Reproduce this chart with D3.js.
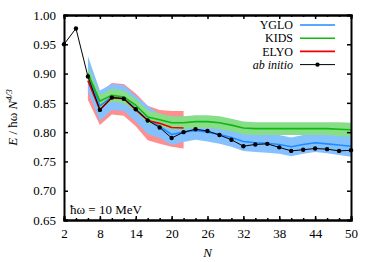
<!DOCTYPE html>
<html>
<head>
<meta charset="utf-8">
<script src="https://cdn.jsdelivr.net/npm/d3@7"></script>
<style>
  body { margin: 0; background: #fff; }
  text { font-family: "Liberation Serif", "DejaVu Serif", serif; fill: #000; }
</style>
</head>
<body>
<div id="graphe"></div>
<script>
//----------------------------------------------------------------
// données
var nAbInitio = [2, 4, 6, 8, 10, 12, 14, 16, 18, 20, 22, 24, 26, 28, 30, 32, 34, 36, 38, 40, 42, 44, 46, 48, 50];
var eAbInitio = [0.950, 0.977, 0.895, 0.838, 0.859, 0.857, 0.839, 0.820, 0.808, 0.790, 0.800, 0.805, 0.802, 0.795, 0.787, 0.776, 0.779, 0.780, 0.774, 0.768, 0.770, 0.772, 0.771, 0.768, 0.769];

var nModele = [6, 8, 10, 12, 14, 16, 18, 20, 22, 24, 26, 28, 30, 32, 34, 36, 38, 40, 42, 44, 46, 48, 50];
var eYglo = [0.900, 0.845, 0.860, 0.858, 0.840, 0.821, 0.810, 0.796, 0.800, 0.803, 0.800, 0.796, 0.791, 0.784, 0.782, 0.781, 0.779, 0.775, 0.779, 0.782, 0.780, 0.778, 0.776];
var errYglo = [0.030, 0.026, 0.022, 0.022, 0.022, 0.024, 0.020, 0.018, 0.017, 0.016, 0.016, 0.016, 0.016, 0.016, 0.016, 0.016, 0.016, 0.016, 0.016, 0.016, 0.016, 0.017, 0.018];
var eKids = [0.900, 0.853, 0.863, 0.860, 0.846, 0.826, 0.821, 0.816, 0.816, 0.818, 0.818, 0.816, 0.812, 0.807, 0.806, 0.806, 0.806, 0.806, 0.806, 0.806, 0.806, 0.805, 0.804];
var errKids = [0.012, 0.011, 0.011, 0.011, 0.011, 0.011, 0.011, 0.011, 0.011, 0.011, 0.011, 0.011, 0.011, 0.011, 0.011, 0.011, 0.011, 0.011, 0.011, 0.011, 0.011, 0.012, 0.012];

var nElyo = [6, 8, 10, 12, 14, 16, 18, 20, 22];
var eElyo = [0.888, 0.838, 0.859, 0.857, 0.838, 0.820, 0.815, 0.808, 0.807];
var hautElyo = [0.900, 0.868, 0.884, 0.882, 0.866, 0.845, 0.838, 0.836, 0.836];
var basElyo = [0.855, 0.812, 0.830, 0.828, 0.810, 0.786, 0.780, 0.775, 0.772];

var ticksX = [2, 8, 14, 20, 26, 32, 38, 44, 50];
var ticksY = [0.65, 0.70, 0.75, 0.80, 0.85, 0.90, 0.95, 1.00];
var legende = ["YGLO", "KIDS", "ELYO", "ab initio"];

//----------------------------------------------------------------
// crée le svg
var largeur = 374, hauteur = 262;
var marge = {gauche: 64, droite: 23, haut: 15, bas: 42};
var svg = d3.select("#graphe")
  .append("svg")
  .attr("width", largeur)
  .attr("height", hauteur);

var x = d3.scaleLinear().domain([2, 50]).range([marge.gauche, largeur - marge.droite]);
var y = d3.scaleLinear().domain([0.65, 1.0]).range([hauteur - marge.bas, marge.haut]);

svg.append("clipPath").attr("id", "cadre")
  .append("rect")
  .attr("x", x(2)).attr("y", y(1.0))
  .attr("width", x(50) - x(2)).attr("height", y(0.65) - y(1.0));

var g = svg.append("g").attr("clip-path", "url(#cadre)");

//----------------------------------------------------------------
// bandes d'incertitude
function bande(ns, bas, haut, couleur) {
  var aire = d3.area()
    .x(function(d, i) { return x(ns[i]); })
    .y0(function(d, i) { return y(bas[i]); })
    .y1(function(d, i) { return y(haut[i]); });
  g.append("path").attr("d", aire(ns)).attr("fill", couleur);
}
bande(nElyo, basElyo, hautElyo, "#ff8e8e");
bande(nModele,
  eYglo.map(function(v, i) { return v - errYglo[i]; }),
  eYglo.map(function(v, i) { return v + errYglo[i]; }), "#86c1ff");
bande(nModele,
  eKids.map(function(v, i) { return v - errKids[i]; }),
  eKids.map(function(v, i) { return v + errKids[i]; }), "#88dd88");

//----------------------------------------------------------------
// courbes
function courbe(ns, vals, couleur, epaisseur) {
  var ligne = d3.line()
    .x(function(d, i) { return x(ns[i]); })
    .y(function(d) { return y(d); });
  g.append("path").attr("d", ligne(vals))
    .attr("fill", "none").attr("stroke", couleur)
    .attr("stroke-width", epaisseur).attr("stroke-linejoin", "round");
}
courbe(nModele, eYglo, "#1e8cff", 1.6);
courbe(nModele, eKids, "#10b810", 1.6);
courbe(nElyo, eElyo, "#ee0000", 1.6);
courbe(nAbInitio, eAbInitio, "#000", 1);

svg.append("g").selectAll("circle")
  .data(eAbInitio)
  .enter()
  .append("circle")
  .attr("cx", function(d, i) { return x(nAbInitio[i]); })
  .attr("cy", function(d) { return y(d); })
  .attr("r", 2.2)
  .attr("fill", "#000");

//----------------------------------------------------------------
// axes avec graduations vers l'intérieur
var ticksMineursX = d3.range(2, 51, 2);
svg.append("g").attr("transform", "translate(0," + y(0.65) + ")")
  .call(d3.axisBottom(x).tickValues(ticksMineursX).tickSize(-2).tickFormat(""));
svg.append("g").attr("transform", "translate(0," + y(0.65) + ")")
  .call(d3.axisBottom(x).tickValues(ticksX).tickSize(-4).tickPadding(9).tickFormat(d3.format("d")));
svg.append("g").attr("transform", "translate(0," + y(1.0) + ")")
  .call(d3.axisTop(x).tickValues(ticksMineursX).tickSize(-2).tickFormat(""));
svg.append("g").attr("transform", "translate(0," + y(1.0) + ")")
  .call(d3.axisTop(x).tickValues(ticksX).tickSize(-4).tickFormat(""));
svg.append("g").attr("transform", "translate(" + x(2) + ",0)")
  .call(d3.axisLeft(y).tickValues(ticksY).tickSize(-4).tickPadding(8).tickFormat(d3.format(".2f")));
svg.append("g").attr("transform", "translate(" + x(50) + ",0)")
  .call(d3.axisRight(y).tickValues(ticksY).tickSize(-4).tickFormat(""));

svg.selectAll(".domain").attr("stroke", "#000").attr("stroke-width", 2);
svg.selectAll(".tick line").attr("stroke", "#000").attr("stroke-width", 1.5);
svg.selectAll(".tick text").attr("font-size", "13px")
  .attr("font-family", "Liberation Serif");

//----------------------------------------------------------------
// titres des axes
svg.append("text")
  .attr("x", x(26)).attr("y", 257)
  .attr("text-anchor", "middle")
  .attr("font-size", "13px").attr("font-style", "italic")
  .text("N");

var titreY = svg.append("text")
  .attr("transform", "translate(17," + ((y(0.65) + y(1.0)) / 2) + ") rotate(-90)")
  .attr("text-anchor", "middle")
  .attr("font-size", "13px");
titreY.append("tspan").attr("font-style", "italic").text("E");
titreY.append("tspan").text(" / ħω ");
titreY.append("tspan").attr("font-style", "italic").text("N");
titreY.append("tspan").attr("font-style", "italic").attr("font-size", "9px")
  .attr("dy", -5).text("4/3");

svg.append("text")
  .attr("x", 70).attr("y", 214)
  .attr("font-size", "13px")
  .text("ħω = 10 MeV");

//----------------------------------------------------------------
// légende
var couleursLegende = ["#1e8cff", "#10b810", "#ee0000", "#000"];
var leg = svg.append("g").selectAll(".legende")
  .data(legende)
  .enter()
  .append("g")
  .attr("transform", function(d, i) { return "translate(0," + (25 + i * 13.2) + ")"; });
leg.append("text")
  .attr("x", 293).attr("y", 4.2)
  .attr("text-anchor", "end")
  .attr("font-size", "12px")
  .attr("font-style", function(d, i) { return i == 3 ? "italic" : "normal"; })
  .text(function(d) { return d; });
leg.append("line")
  .attr("x1", 300).attr("x2", 335)
  .attr("stroke", function(d, i) { return couleursLegende[i]; })
  .attr("stroke-width", function(d, i) { return i == 3 ? 1 : 1.6; });
leg.filter(function(d, i) { return i == 3; })
  .append("circle")
  .attr("cx", 317.5).attr("r", 2.2).attr("fill", "#000");
</script>
</body>
</html>
